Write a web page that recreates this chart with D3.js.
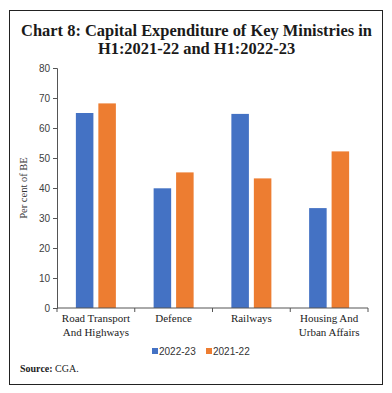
<!DOCTYPE html>
<html><head><meta charset="utf-8">
<script src="https://cdn.jsdelivr.net/npm/d3@7"></script>
<style>body{margin:0;background:#fff}</style>
</head><body>
<svg id="c" width="392" height="393"></svg>
<script>
const categories = [["Road Transport","And Highways"],["Defence"],["Railways"],["Housing And","Urban Affairs"]];
const seriesNames = ["2022-23","2021-22"];
const values2022 = [65.0, 39.9, 64.7, 33.3];
const values2021 = [68.2, 45.2, 43.2, 52.2];
const yTicks = [0,10,20,30,40,50,60,70,80];
const colors = ["#4472C4","#ED7D31"];

const svg = d3.select("#c");
const serif = "'Liberation Serif', 'DejaVu Serif', serif";
const sans = "'Liberation Sans', Arial, sans-serif";

// frame
svg.append("rect").attr("x",9.5).attr("y",10.5).attr("width",373).attr("height",374)
  .attr("fill","none").attr("stroke","#222").attr("stroke-width",1);

// title
function fitText(sel, w){
  const len = sel.node().getComputedTextLength();
  const fs = parseFloat(sel.attr("font-size"));
  sel.attr("font-size", fs*w/len);
}
const t1 = svg.append("text").attr("x",196.5).attr("y",36).attr("text-anchor","middle")
  .attr("font-family",serif).attr("font-weight","bold").attr("font-size",17).attr("fill","#1a1a1a")
  .text("Chart 8: Capital Expenditure of Key Ministries in");
fitText(t1, 351);
const t2 = svg.append("text").attr("x",196.5).attr("y",54).attr("text-anchor","middle")
  .attr("font-family",serif).attr("font-weight","bold").attr("font-size",t1.attr("font-size")).attr("fill","#1a1a1a")
  .text("H1:2021-22 and H1:2022-23");

const x0 = d3.scaleBand().domain(d3.range(categories.length)).range([57,368]).padding(0);
const y = d3.scaleLinear().domain([0,80]).range([308,68]);
const x1 = d3.scaleBand().domain([0,1]).range([0,x0.bandwidth()]).paddingInner(0.22).paddingOuter(0.84);

// bars
const data = categories.map((c,i)=>[values2022[i],values2021[i]]);
const g = svg.append("g");
data.forEach((pair,i)=>{
  pair.forEach((v,j)=>{
    g.append("rect").attr("x",x0(i)+x1(j)).attr("y",y(v))
      .attr("width",x1.bandwidth()).attr("height",y(0)-y(v))
      .attr("fill",colors[j]);
  });
});

// y axis
const ya = svg.append("g").attr("transform","translate(57,0)")
  .call(d3.axisLeft(y).tickValues(yTicks).tickSize(4).tickPadding(3));
ya.selectAll("text").attr("font-family",sans).attr("font-size",10).attr("fill","#404040");
ya.selectAll("line,path").attr("stroke","#555");

// x axis
const xa = svg.append("g").attr("transform","translate(0,308)");
xa.append("line").attr("x1",57).attr("x2",368).attr("stroke","#555");
d3.range(categories.length+1).forEach(i=>{
  const xx = i<categories.length ? x0(i) : x0.range()[1];
  xa.append("line").attr("x1",xx).attr("x2",xx).attr("y1",0).attr("y2",4).attr("stroke","#555");
});
categories.forEach((lines,i)=>{
  const cx = x0(i)+x0.bandwidth()/2;
  lines.forEach((ln,k)=>{
    xa.append("text").attr("x",cx).attr("y",14+k*13.5).attr("text-anchor","middle")
      .attr("font-family",serif).attr("font-size",11).attr("fill","#222").text(ln);
  });
});

// y label
svg.append("text").attr("transform","translate(27,188) rotate(-90)").attr("text-anchor","middle")
  .attr("font-family",serif).attr("font-size",10.5).attr("fill","#333").text("Per cent of BE");

// legend
const lx = [152,206];
seriesNames.forEach((s,j)=>{
  svg.append("rect").attr("x",lx[j]).attr("y",348).attr("width",6).attr("height",6).attr("fill",colors[j]);
  svg.append("text").attr("x",lx[j]+7).attr("y",355).attr("font-family",sans).attr("font-size",10)
    .attr("fill","#333").text(s);
});

// source
const src = svg.append("text").attr("x",20).attr("y",372).attr("font-family",serif).attr("font-size",10).attr("fill","#222");
src.append("tspan").attr("font-weight","bold").text("Source:");
src.append("tspan").text(" CGA.");
</script>
</body></html>
